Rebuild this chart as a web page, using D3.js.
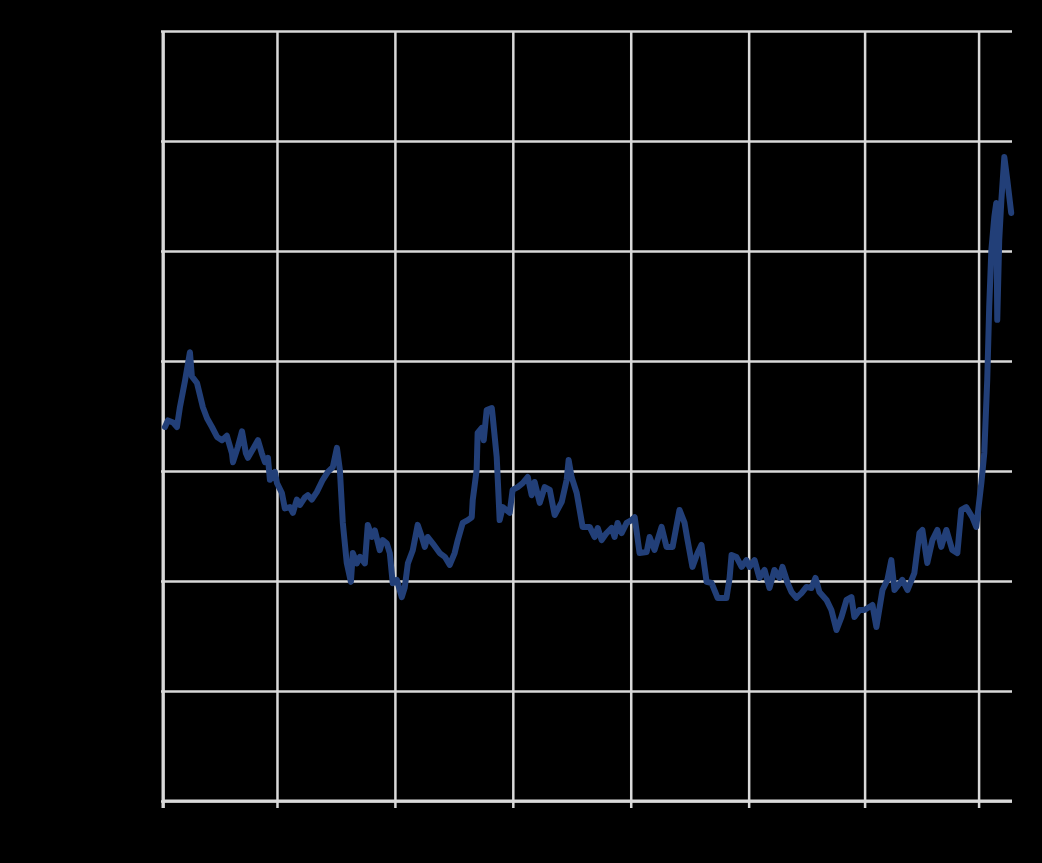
<!DOCTYPE html>
<html>
<head>
<meta charset="utf-8">
<script src="https://cdn.jsdelivr.net/npm/d3@7"></script>
<style>
  html, body { margin: 0; padding: 0; background: #000; }
  svg { display: block; }
</style>
</head>
<body>
<div id="chart"></div>
<script>
// month index since series start
var months = [1, 2.5, 5.1, 7.1, 8.6, 11.2, 13.7, 14.7, 17.3, 20.3, 22.4, 24.9, 27.5, 30, 32.5, 35.1, 35.6, 38.1, 40.2, 42.2,
  43.2, 45.8, 48.3, 50.3, 51.9, 53.4, 54.4, 56.9, 58, 60.5, 62, 64.6, 66.1, 68.1, 69.7, 72.2, 73.7, 75.7, 78.3, 81.3,
  83.9, 86.4, 88.5, 90, 91.5, 93.5, 95.6, 96.6, 98.6, 100.2, 102.7, 104.2, 106.3, 107.8, 110.3, 111.8, 113.9, 115.4, 116.9, 119,
  121.5, 123, 124.6, 127.1, 129.6, 131.7, 133.2, 134.7, 137.3, 140.8, 143.4, 145.9, 148.4, 150, 152.5, 155.1, 157.1, 157.6, 159.6, 160.1,
  162.2, 163.2, 164.7, 167.3, 167.8, 169.8, 171.3, 172.9, 176.4, 177.9, 180.5, 183, 185.6, 187.6, 189.1, 191.7, 194.2, 196.8, 199.3, 202.9,
  205.4, 206.4, 207.9, 210.5, 213.5, 217.1, 219.6, 221.2, 223.2, 225.7, 228.3, 229.8, 231.3, 233.4, 235.9, 238.4, 240, 242.5, 246.1, 247.6,
  250.1, 253.7, 256.2, 259.3, 262.8, 265.4, 266.9, 269.4, 272, 274, 276.6, 279.1, 282.2, 286.7, 288.3, 289.3, 291.8, 294.4, 296.9, 298.4,
  301, 303.5, 306.1, 308.6, 311.1, 313.7, 315.2, 317.8, 319.8, 322.3, 324.9, 327.4, 329.9, 332, 334, 337.6, 340.1, 342.7, 345.2, 347.8,
  350.3, 351.8, 354.4, 356.9, 359.4, 361, 363, 366.1, 368.6, 370.6, 372.2, 376.2, 378.8, 382.3, 384.9, 386.4, 388.9, 391.5, 394, 396,
  398.6, 401.6, 404.2, 406.2, 408.7, 411.8, 413.8, 416.4, 417.9, 419.4, 420.4, 421.5, 423, 424, 424.5, 425.5, 426.6, 428.1, 429.6, 431.6];

var values = [170, 173, 172, 170, 179, 191, 204, 193, 190, 179, 174, 170, 165.5, 164, 166, 158, 154, 161, 168, 158,
  156, 160, 164, 158, 154, 156, 146, 149.6, 144.5, 140, 133, 133.6, 131, 137, 134.6, 138, 139, 137, 140.5, 146,
  149.6, 151.8, 160.5, 150.5, 126.4, 108.2, 99.6, 112.7, 108, 111, 108, 125.5, 120, 123, 114, 118.6, 117, 112.7, 99, 100.5,
  92.7, 97, 108, 114, 125.5, 120, 115.5, 120, 117, 112.7, 111, 107.3, 112.7, 118.6, 126.4, 127.7, 129, 136.8, 150.5, 167.3,
  169.6, 164, 177.7, 178.6, 174.5, 156.4, 127.7, 133.6, 131, 141.4, 142.7, 144.5, 147.3, 139, 145, 135.5, 142.7, 141.4, 130, 136,
  146, 155, 147.3, 140, 124.6, 124.6, 120, 124.1, 118.6, 121.8, 124.1, 120, 126.4, 121.8, 126.4, 127.7, 129, 112.7, 113.2, 120,
  114.1, 124.6, 115.5, 115.5, 132.3, 126.4, 118.6, 106.4, 112.7, 116.4, 99.6, 99.1, 92.3, 92.3, 101.4, 111.8, 110.9, 106.4, 109.5, 106.4,
  109.5, 101.4, 105, 96.8, 105, 101.4, 106.4, 99.1, 95, 92.3, 94.5, 97.3, 96.8, 101.4, 95, 91.4, 86.8, 77.7, 83.6, 91.4,
  92.7, 83.6, 86.8, 86.8, 88.2, 89.1, 79.1, 95.9, 100.5, 109.5, 95.9, 100.5, 95.9, 103.6, 121.8, 123.2, 108.2, 118.6, 123.2, 115.5,
  123.2, 114.1, 112.7, 132.3, 133.6, 129, 124.6, 144.5, 158.2, 191.4, 224.6, 250.5, 265.5, 271.8, 218.7, 255, 273.2, 292.7, 282.3, 267.3];

var xTicks = [0, 58, 118, 178, 238, 298, 357, 415];
var xTickLabels = ["1985", "1990", "1995", "2000", "2005", "2010", "2015", "2020"];
var yTicks = [0, 50, 100, 150, 200, 250, 300, 350];

var svgWidth = 1042;
var svgHeight = 863;

var margin = {
  top: 31,
  right: 30,
  bottom: 62,
  left: 163
};

var width = svgWidth - margin.left - margin.right;
var height = svgHeight - margin.top - margin.bottom;

var svg = d3.select("#chart")
    .append("svg")
    .attr("width", svgWidth)
    .attr("height", svgHeight)
    .style("background", "#000");

var chartGroup = svg.append("g")
    .attr("transform", `translate(${margin.left}, ${margin.top})`);

var xScale = d3.scaleLinear()
    .domain([0, 432])
    .range([0, width]);

var yScale = d3.scaleLinear()
    .domain([0, 350])
    .range([height, 0]);

// horizontal grid
var leftAxis = d3.axisLeft(yScale)
    .tickValues(yTicks)
    .tickSize(-width)
    .tickPadding(10)
    .tickFormat(d3.format("d"));

var yAxisGroup = chartGroup.append("g")
    .call(leftAxis);

yAxisGroup.select(".domain").remove();
yAxisGroup.selectAll("line")
    .attr("stroke", "#d9d9d9")
    .attr("stroke-width", 2.5)
    .attr("x2", width)
    .attr("x1", -2);

// vertical grid
var bottomAxis = d3.axisBottom(xScale)
    .tickValues(xTicks)
    .tickSize(-height)
    .tickPadding(14)
    .tickFormat((d, i) => xTickLabels[i]);

var xAxisGroup = chartGroup.append("g")
    .attr("transform", `translate(0,${height})`)
    .call(bottomAxis);

xAxisGroup.select(".domain").remove();
xAxisGroup.selectAll("line")
    .attr("stroke", "#d9d9d9")
    .attr("stroke-width", 2.5)
    .attr("y1", 7);

// axis lines
chartGroup.append("line")
    .attr("x1", 0).attr("x2", width)
    .attr("y1", height).attr("y2", height)
    .attr("stroke", "#d9d9d9")
    .attr("stroke-width", 3);

chartGroup.append("line")
    .attr("x1", 0).attr("x2", 0)
    .attr("y1", 0).attr("y2", height + 7)
    .attr("stroke", "#d9d9d9")
    .attr("stroke-width", 3);

svg.selectAll(".tick text")
    .attr("fill", "#000")
    .attr("font-family", "Liberation Sans, Arial, sans-serif")
    .attr("font-size", "16px");

var series = months.map((m, i) => ({ m: m, v: values[i] }));

var line = d3.line()
    .x(d => xScale(d.m))
    .y(d => yScale(d.v));

chartGroup.append("path")
    .datum(series)
    .attr("d", line)
    .attr("fill", "none")
    .attr("stroke", "#223f78")
    .attr("stroke-width", 6)
    .attr("stroke-linejoin", "round")
    .attr("stroke-linecap", "round");
</script>
</body>
</html>
